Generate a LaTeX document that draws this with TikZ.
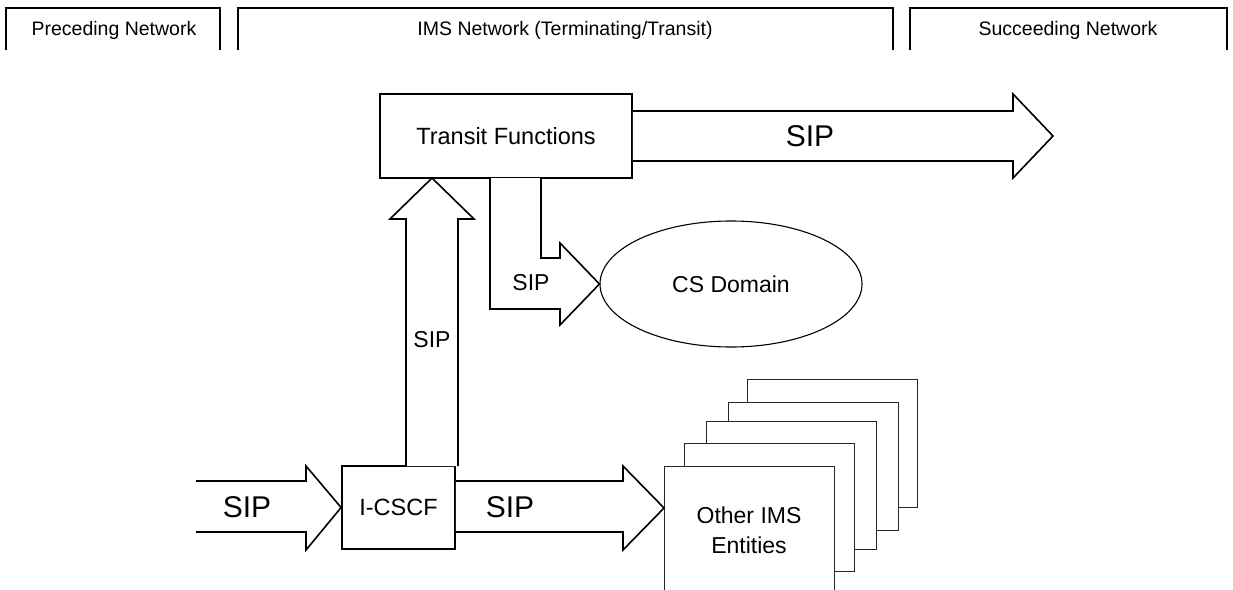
\documentclass[tikz,border=0pt]{standalone}
\usepackage{fontspec}
\setmainfont{Liberation Sans}
\usetikzlibrary{shapes.geometric,calc}
\begin{document}
\begin{tikzpicture}[x=1pt,y=-1pt,
  box/.style={draw,line width=1.8pt,fill=white,inner sep=0pt,font=\fontsize{23.5}{27}\selectfont,align=center},
  stackbox/.style={draw=black!85,line width=0.8pt,fill=white,inner sep=0pt,minimum width=170pt,minimum height=128pt,font=\fontsize{23}{30}\selectfont,align=center},
  tab/.style={line width=1.1pt},
  tablabel/.style={font=\fontsize{19.5}{24}\selectfont,inner sep=0pt},
  blockarrow/.style={line width=1.6pt,fill=white,line join=miter},
  siplabel/.style={font=\fontsize{23}{27}\selectfont,inner sep=0pt},
  bigsip/.style={font=\fontsize{30}{34}\selectfont,inner sep=0pt}]
\useasboundingbox (0,0) rectangle (1233,589);
\clip (0,0) rectangle (1233,589);
% header tabs
\draw[tab] (6,50) -- (6,8) -- (220,8) -- (220,50);
\draw[tab] (238,50) -- (238,8) -- (893,8) -- (893,50);
\draw[tab] (910,50) -- (910,8) -- (1227,8) -- (1227,50);
\node[tablabel] (pre) at (114,30) {Preceding Network};
\node[tablabel] (ims) at (565,30) {IMS Network (Terminating/Transit)};
\node[tablabel] (suc) at (1068,30) {Succeeding Network};
% main nodes
\node[box,minimum width=252pt,minimum height=84pt] (tf) at (506,136) {Transit Functions};
\node[box,minimum width=113pt,minimum height=83pt] (icscf) at (398.5,507.5) {I-CSCF};
\node[draw,ellipse,line width=1.1pt,minimum width=262pt,minimum height=126pt,inner sep=0pt,font=\fontsize{23}{27}\selectfont] (cs) at (731,284) {CS Domain};
% stacked entities
\node[stackbox] (s5) at (832.5,443.5) {};
\node[stackbox] (s4) at (813,466) {};
\node[stackbox] (s3) at (791.5,485.5) {};
\node[stackbox] (s2) at (769,507.5) {};
\node[stackbox] (oims) at (749,530) {Other IMS\\Entities};
% block arrows
\coordinate (tipmid) at (664,508);
\draw[blockarrow] (196,481) -- (306,481) -- (306,466) -- (icscf.west) -- (306,550) -- (306,532) -- (196,532);
\draw[blockarrow] (icscf.east |- 0,481) -- (623,481) -- (623,466) -- (tipmid) -- (623,550) -- (623,532) -- (icscf.east |- 0,532);
\coordinate (tipup) at (432,178);
\draw[blockarrow] (406,466) -- (406,219) -- (390,219) -- (tipup) -- (474,219) -- (458,219) -- (458,466);
\coordinate (tipright) at (1053,136);
\draw[blockarrow] (tf.east |- 0,111) -- (1013,111) -- (1013,94) -- (tipright) -- (1013,178) -- (1013,161) -- (tf.east |- 0,161);
\draw[blockarrow] (490,178) -- (490,309) -- (560,309) -- (560,325) -- (cs.west) -- (560,243) -- (560,258) -- (541,258) -- (541,178);
% labels
\node[bigsip] (sipright) at (810,136) {SIP};
\node[bigsip] (sipleft) at (247,507) {SIP};
\node[bigsip] (sipmid) at (510,507) {SIP};
\node[siplabel] (sipup) at (432,340) {SIP};
\node[siplabel] (sipcs) at (531,283) {SIP};
\end{tikzpicture}
\end{document}
